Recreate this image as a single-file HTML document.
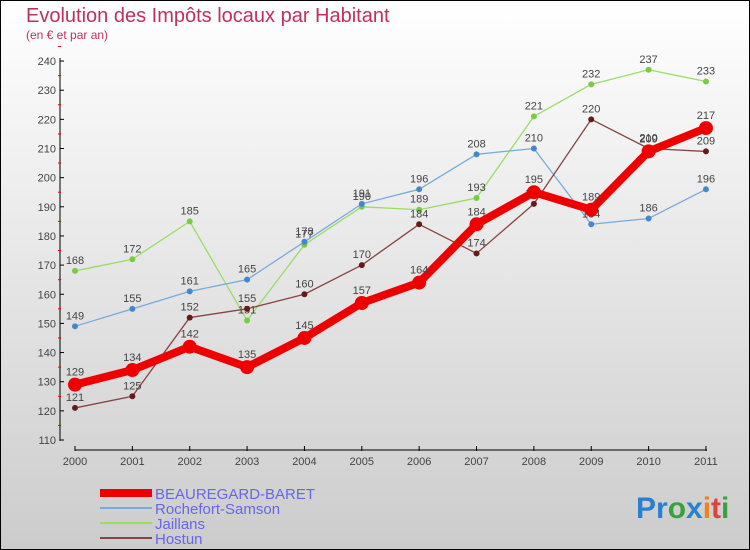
<!DOCTYPE html>
<html><head><meta charset="utf-8"><style>
body{margin:0}
#c{width:748px;height:548px;border:1px solid #000;background:linear-gradient(#fff,#ccc);position:relative;font-family:"Liberation Sans",sans-serif;overflow:hidden}
</style></head><body>
<div id="c">
<svg id="s" width="748" height="548" viewBox="1 1 748 548" style="position:absolute;left:0;top:0">
<text x="26" y="22" font-size="20" fill="#c0305e">Evolution des Impôts locaux par Habitant</text>
<text x="26" y="39" font-size="12" fill="#c0305e">(en € et par an)</text>
<g id="g"></g>
<text x="636" y="518" font-size="30" font-weight="bold"><tspan fill="#2a7fd0">Pr</tspan><tspan fill="#3aa040">o</tspan><tspan fill="#2a7fd0">x</tspan><tspan fill="#f08020">i</tspan><tspan fill="#e04040">t</tspan><tspan fill="#3aa040">i</tspan></text>
</svg>
</div>
<script>
const years=["2000","2001","2002","2003","2004","2005","2006","2007","2008","2009","2010","2011"];
const yTicks=[110,120,130,140,150,160,170,180,190,200,210,220,230,240];
const names=["BEAUREGARD-BARET","Rochefort-Samson","Jaillans","Hostun"];
const beauregard=[129,134,142,135,145,157,164,184,195,189,209,217];
const rochefort=[149,155,161,165,178,191,196,208,210,184,186,196];
const jaillans=[168,172,185,151,177,190,189,193,221,232,237,233];
const hostun=[121,125,152,155,160,170,184,174,191,220,210,209];
const NS="http://www.w3.org/2000/svg",g=document.getElementById('g');
const X=i=>75+i*57.36, Y=v=>440-(v-110)*2.915;
function mk(t,a,p){const e=document.createElementNS(NS,t);for(const k in a)e.setAttribute(k,a[k]);(p||g).appendChild(e);return e;}
let ax=mk('line',{x1:60,y1:58,x2:60,y2:441,stroke:'#000'});


yTicks.forEach(v=>{mk('line',{x1:60,x2:64,y1:Y(v),y2:Y(v),stroke:'#000'});
 mk('line',{x1:58,x2:61,y1:Y(v+5),y2:Y(v+5),stroke:'#e00'});
 const t=mk('text',{x:56,y:Y(v)+4,'font-size':11,fill:'#444','text-anchor':'end'});t.textContent=v;
 
 });
let xa=mk('line',{x1:75,y1:450,x2:707,y2:450,stroke:'#000'});


years.forEach((y,i)=>{mk('line',{x1:X(i),x2:X(i),y1:446,y2:451,stroke:'#000'});
 const t=mk('text',{x:X(i),y:465,'font-size':11,fill:'#444','text-anchor':'middle'});t.textContent=y;
 
 });
const series=[[jaillans,'#99dd66','#77cc44',1.3,3],[rochefort,'#77aadd','#4488cc',1.3,3],[hostun,'#884444','#661a1a',1.3,3],[beauregard,'#ee0000','#ee0000',8,7]];
series.forEach(([d,c,pc,w,r],si)=>{
 const l=mk('polyline',{points:d.map((v,i)=>X(i)+','+Y(v)).join(' '),fill:'none',stroke:c,'stroke-width':w,'stroke-linejoin':'round'});
 
 
 d.forEach((v,i)=>{const p=mk('circle',{cx:X(i),cy:Y(v),r:r,fill:pc});
  
  
  const t=mk('text',{x:X(i),y:Y(v)-(si==3?9:7),'font-size':11,fill:'#444','text-anchor':'middle'});t.textContent=v;
  
  });
});
const lc=['#ee0000','#77aadd','#99dd66','#884444'],lw=[8,2,2,2];
names.forEach((n,i)=>{const y=493+i*15;
 const l=mk('line',{x1:100,x2:152,y1:y,y2:y,stroke:lc[i],'stroke-width':lw[i]});
 
 
 const t=mk('text',{x:155,y:y+6,'font-size':15,fill:'#6666ee'});t.textContent=n;
 
 });
</script>
</body></html>
